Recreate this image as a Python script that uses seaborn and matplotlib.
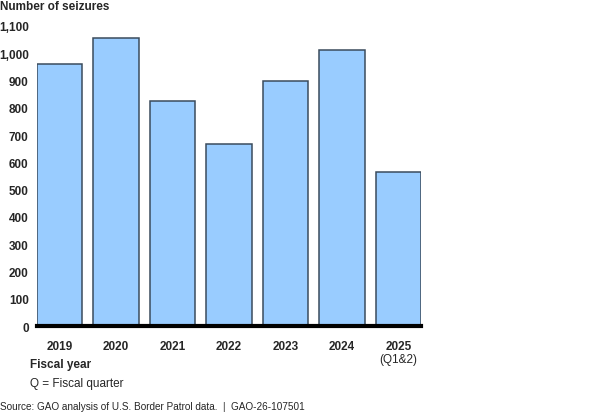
import pandas as pd
import matplotlib.pyplot as plt
import seaborn as sns

years = ['2019', '2020', '2021', '2022', '2023', '2024', '2025']
seizures = [960, 1057, 825, 668, 897, 1013, 566]
yticks = [0, 100, 200, 300, 400, 500, 600, 700, 800, 900, 1000, 1100]

df = pd.DataFrame({'year': years, 'seizures': seizures})

sns.set_theme(style="white")
plt.rcParams['font.family'] = ['Liberation Sans', 'DejaVu Sans']

fig = plt.figure(figsize=(6, 4.14), dpi=100)
ax = fig.add_axes([0.0617, 0.2101, 0.64, 0.7247])

sns.barplot(data=df, x='year', y='seizures', color='#99ccff', saturation=1,
            edgecolor='#3b4b5c', linewidth=1.1, width=0.8, ax=ax)

ax.set_xlim(-0.4, 6.4)
ax.set_ylim(0, 1100)
ax.set_yticks(yticks)
ax.set_yticklabels([format(v, ',') for v in yticks], fontweight='bold', fontsize=8.5)
ax.set_xticklabels(years, fontweight='bold', fontsize=8.5)
# the quarter note under 2025 is not bold
ax.text(6, -100, '(Q1&2)', ha='center', va='top', fontsize=8.5)
ax.tick_params(axis='x', length=0, pad=10)
ax.tick_params(axis='y', length=0, pad=6)

for side in ['left', 'right', 'top']:
    ax.spines[side].set_visible(False)
ax.spines['bottom'].set_color('black')
ax.spines['bottom'].set_linewidth(3)
ax.set_xlabel('')
ax.set_ylabel('')

fig.text(0.0, 0.982, 'Number of seizures', fontweight='bold', fontsize=8.5, va='center')
fig.text(0.05, 0.118, 'Fiscal year', fontweight='bold', fontsize=8.5, va='center')
fig.text(0.05, 0.072, 'Q = Fiscal quarter', fontsize=8.5, va='center')
fig.text(0.0, 0.017, 'Source: GAO analysis of U.S. Border Patrol data.  |  GAO-26-107501',
         fontsize=7.2, va='center')

plt.savefig('out.png', dpi=100)
